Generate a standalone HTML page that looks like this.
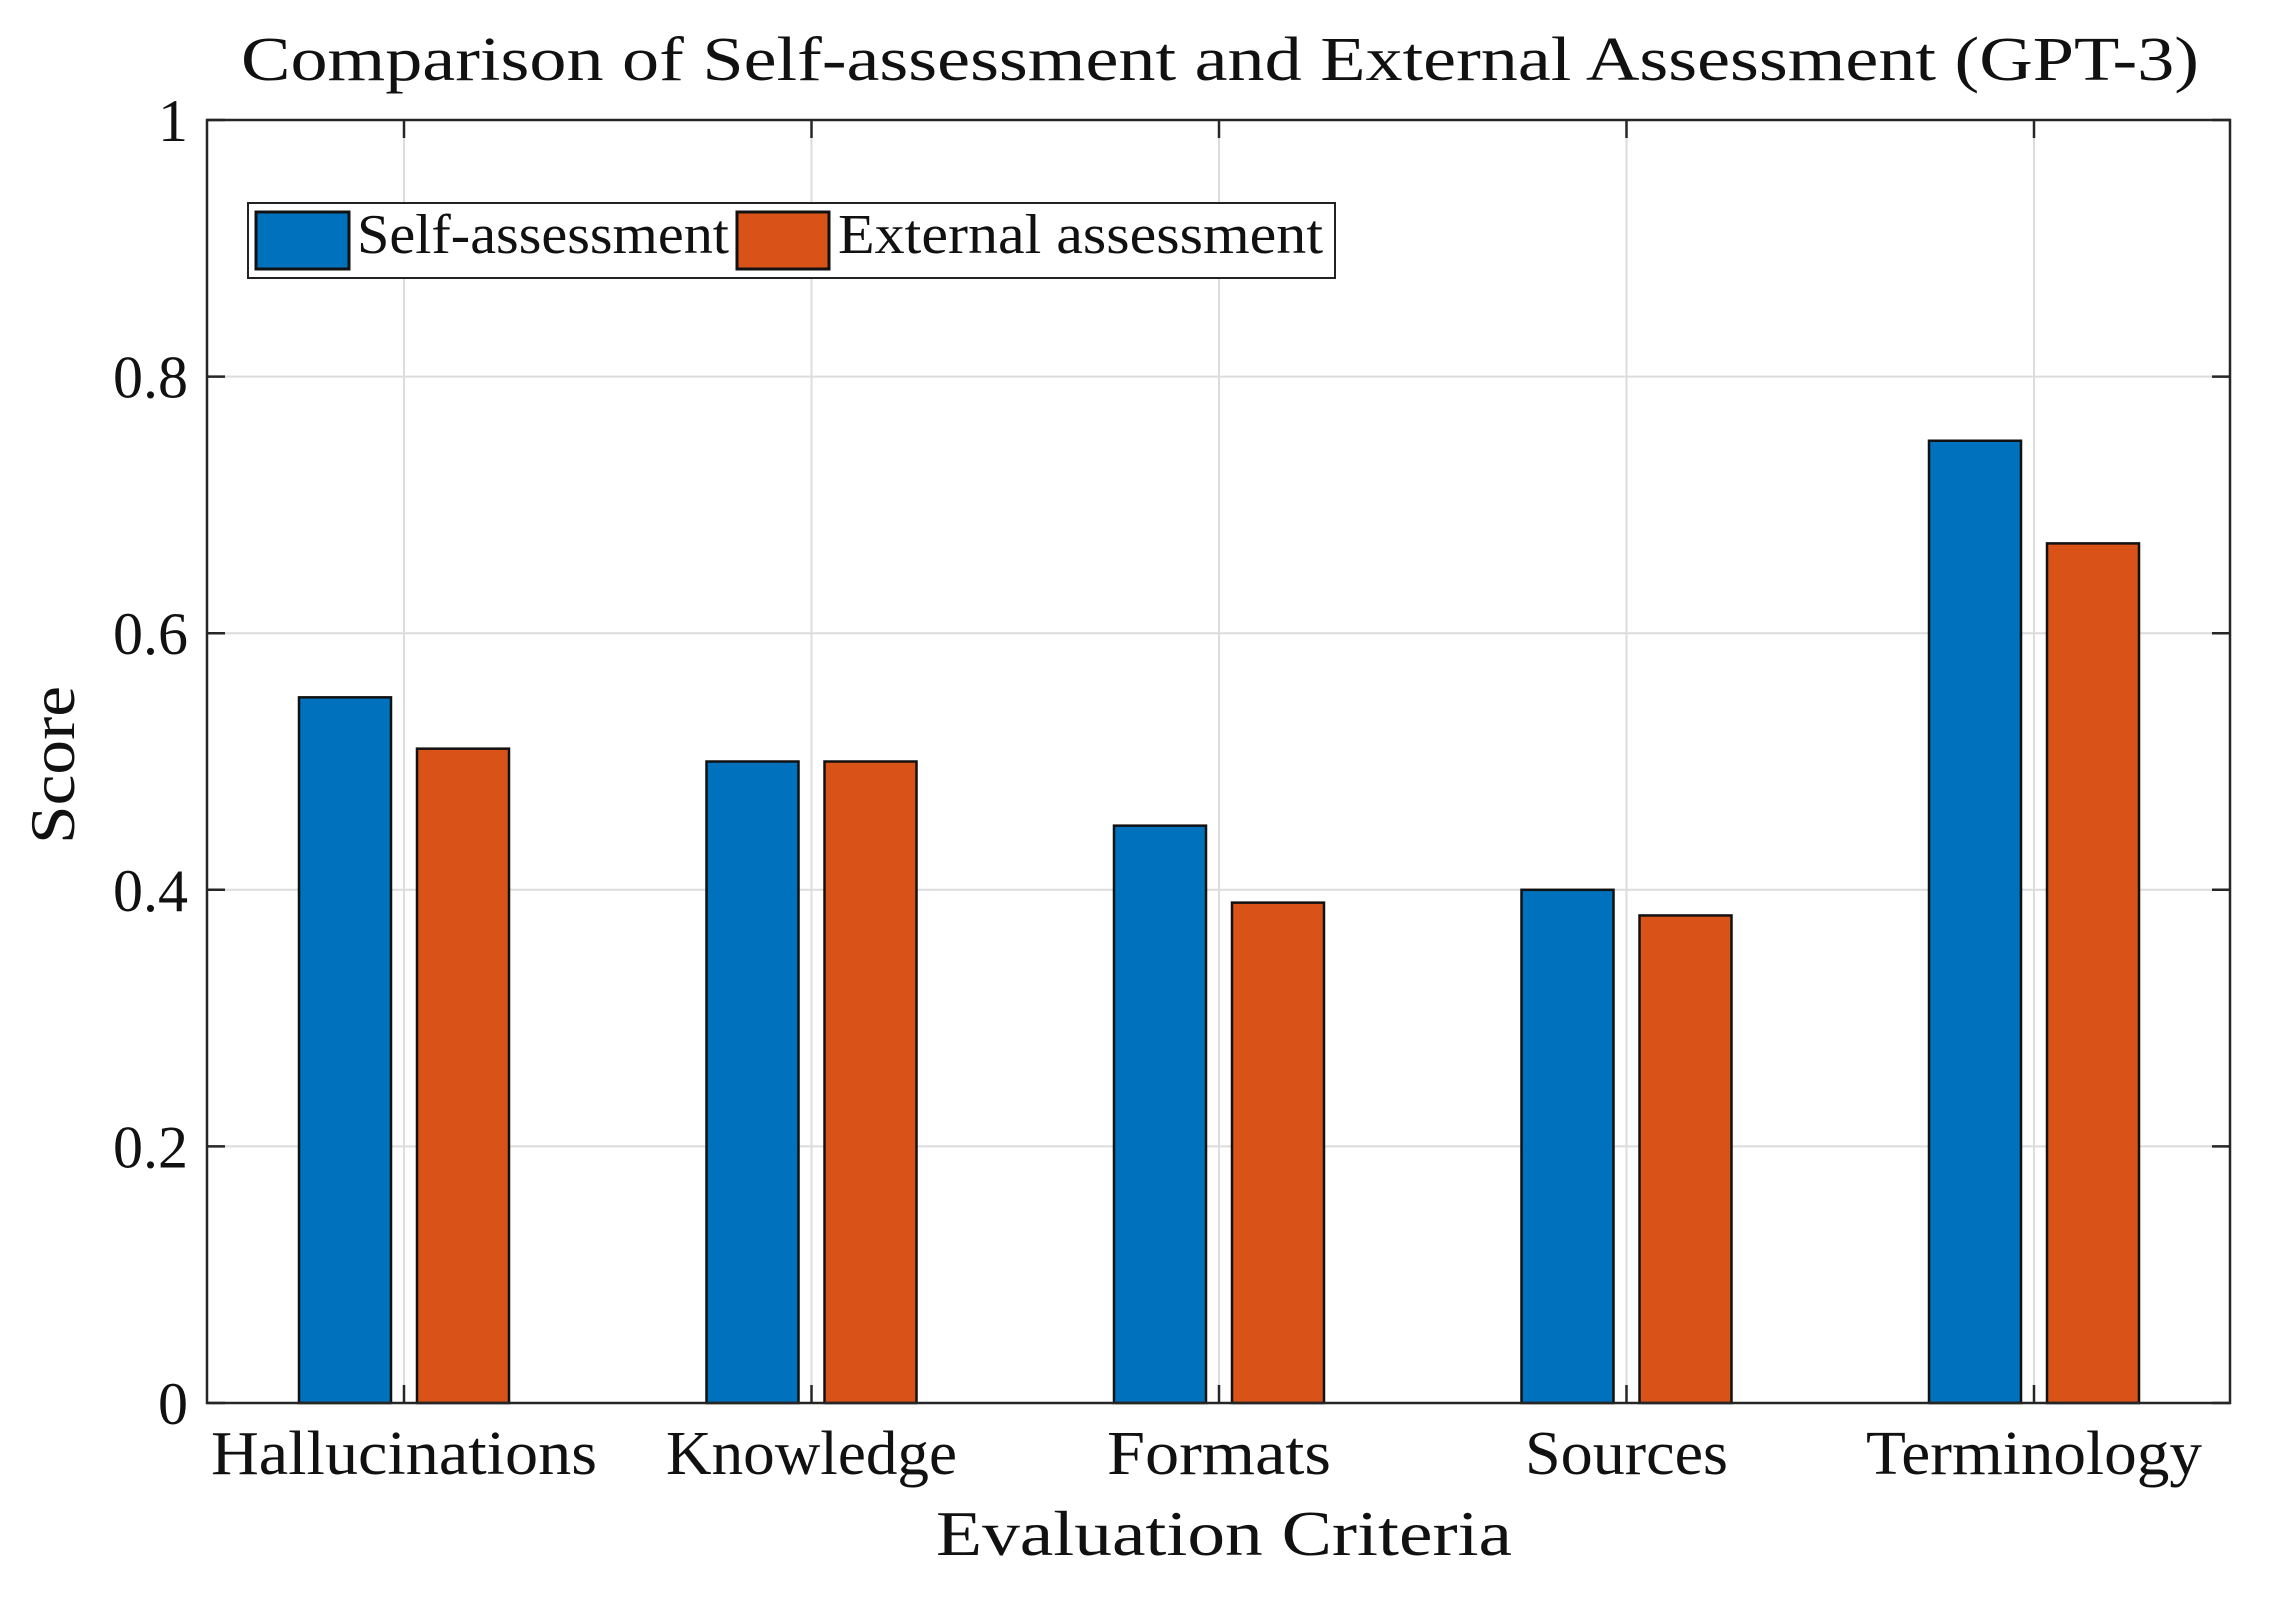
<!DOCTYPE html>
<html><head><meta charset="utf-8"><style>
html,body{margin:0;padding:0;background:#fff;}
svg{display:block;font-family:"Liberation Serif",serif;}
</style></head><body>
<svg id="chart" width="2277" height="1597" viewBox="0 0 2277 1597">
<g id="grid"></g>
<g id="bars"></g>
<g id="axes"></g>
<text x="1220" y="80" font-size="62" text-anchor="middle" textLength="1958" lengthAdjust="spacingAndGlyphs" fill="#111">Comparison of Self-assessment and External Assessment (GPT-3)</text>
<text x="1224" y="1555" font-size="64" text-anchor="middle" textLength="576" lengthAdjust="spacingAndGlyphs" fill="#111">Evaluation Criteria</text>
<text transform="translate(74,765) rotate(-90)" font-size="64" text-anchor="middle" textLength="158" lengthAdjust="spacingAndGlyphs" fill="#111">Score</text>
<g>
<rect x="248" y="203" width="1087" height="75" fill="#fff" stroke="#222" stroke-width="2"/>
<g>
<rect x="256" y="212" width="93" height="57" fill="#0072BD" stroke="#111" stroke-width="3"/>
<text x="357" y="253" font-size="56" textLength="372" lengthAdjust="spacingAndGlyphs" fill="#111">Self-assessment</text>
</g>
<g>
<rect x="737" y="212" width="92" height="57" fill="#D95319" stroke="#111" stroke-width="3"/>
<text x="838" y="253" font-size="56" textLength="485" lengthAdjust="spacingAndGlyphs" fill="#111">External assessment</text>
</g>
</g>
</svg>
<script>
const categories = ["Hallucinations","Knowledge","Formats","Sources","Terminology"];
const selfScores = [0.55, 0.50, 0.45, 0.40, 0.75];
const externalScores = [0.51, 0.50, 0.39, 0.38, 0.67];
const yTicks = [0, 0.2, 0.4, 0.6, 0.8, 1];
const yTickLabels = ["0","0.2","0.4","0.6","0.8","1"];
const labelWidths = [386, 291, 224, 203, 336];

const NS = "http://www.w3.org/2000/svg";
const L = 207, R = 2230, T = 120, B = 1403;
const xScale = v => 404 + (v - 1) * 407.5;
const yScale = v => B - v * (B - T);
const barW = 92, off = 59;
function mk(tag, attrs, parent){const e=document.createElementNS(NS,tag);for(const k in attrs)e.setAttribute(k,attrs[k]);parent.appendChild(e);return e;}
const grid=document.getElementById('grid'), bars=document.getElementById('bars'), axes=document.getElementById('axes');
yTicks.forEach((t,i)=>{
  const y=yScale(t);
  const g=mk('line',{x1:L,x2:R,y1:y,y2:y,stroke:'#dcdcdc','stroke-width':2},grid);
  
  
  const tl=mk('line',{x1:L,x2:L+18,y1:y,y2:y,stroke:'#262626','stroke-width':2.5},axes);
  
  
  const tr=mk('line',{x1:R-18,x2:R,y1:y,y2:y,stroke:'#262626','stroke-width':2.5},axes);
  
  
  const tx=mk('text',{x:188,y:y+21,'font-size':60,'text-anchor':'end',fill:'#111'},axes);
  tx.textContent=yTickLabels[i];
  
  
});
categories.forEach((c,i)=>{
  const x=xScale(i+1);
  const g=mk('line',{x1:x,x2:x,y1:T,y2:B,stroke:'#dcdcdc','stroke-width':2},grid);
  
  
  const b1=mk('rect',{x:x-off-barW/2,y:yScale(selfScores[i]),width:barW,height:yScale(0)-yScale(selfScores[i]),fill:'#0072BD',stroke:'#111','stroke-width':2.5},bars);
  
  
  const b2=mk('rect',{x:x+off-barW/2,y:yScale(externalScores[i]),width:barW,height:yScale(0)-yScale(externalScores[i]),fill:'#D95319',stroke:'#111','stroke-width':2.5},bars);
  
  
  const tb=mk('line',{x1:x,x2:x,y1:B-18,y2:B,stroke:'#262626','stroke-width':2.5},axes);
  
  
  const tt=mk('line',{x1:x,x2:x,y1:T,y2:T+18,stroke:'#262626','stroke-width':2.5},axes);
  
  
  const tx=mk('text',{x:x,y:1474,'font-size':62,'text-anchor':'middle',fill:'#111',textLength:labelWidths[i],lengthAdjust:'spacingAndGlyphs'},axes);
  tx.textContent=c;
  
  
});
const box=mk('rect',{x:L,y:T,width:R-L,height:B-T,fill:'none',stroke:'#262626','stroke-width':2.5},axes);


</script>
</body></html>
